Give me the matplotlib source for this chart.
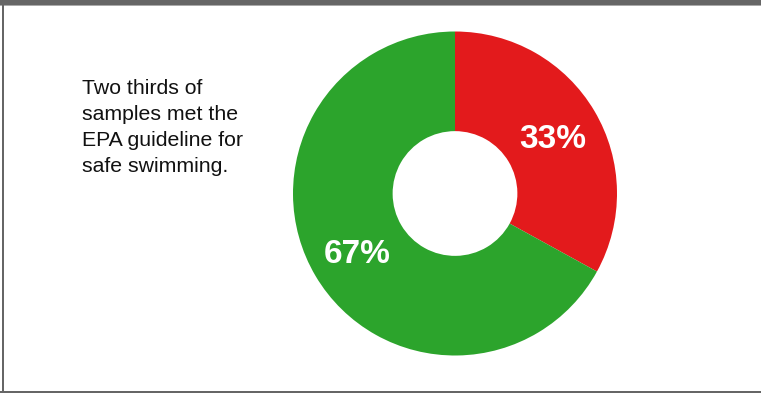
import matplotlib.pyplot as plt
from matplotlib.patches import Rectangle

# share of samples
labels = ['Did not meet', 'Met guideline']
values = [33, 67]
pct_labels = ['33%', '67%']
colors = ['#e31a1c', '#2ca42c']
note = 'Two thirds of\nsamples met the\nEPA guideline for\nsafe swimming.'

W, H = 761, 393
fig = plt.figure(figsize=(W / 100, H / 100), dpi=100)

# frame around the chart
fig.patches.append(Rectangle((0, (H - 4.5) / H), 1, 4.5 / H, transform=fig.transFigure,
                             facecolor='#666666', edgecolor='none'))
fig.patches.append(Rectangle((0, (H - 6) / H), 1, 1.5 / H, transform=fig.transFigure,
                             facecolor='#aaaaaa', edgecolor='none'))
fig.patches.append(Rectangle((2 / W, 0), 2 / W, 1, transform=fig.transFigure,
                             facecolor='#666666', edgecolor='none'))
fig.patches.append(Rectangle((0, 0), 1, 2.5 / H, transform=fig.transFigure,
                             facecolor='#666666', edgecolor='none'))

# donut
r = 162
cx, cy = 455, H - 193.5
ax = fig.add_axes([(cx - r) / W, (cy - r) / H, 2 * r / W, 2 * r / H])
wedges, texts, autotexts = ax.pie(values, colors=colors, startangle=90, counterclock=False,
                                  radius=1, wedgeprops=dict(width=0.615, edgecolor='none'),
                                  autopct='%1.0f%%', pctdistance=0.7)
for t, lab in zip(autotexts, pct_labels):
    t.set_text(lab)
    t.set_color('white')
    t.set_fontsize(24)
    t.set_fontweight('bold')
    t.set_fontfamily('Liberation Sans')
    t.set_va('center_baseline')
ax.set_xlim(-1, 1)
ax.set_ylim(-1, 1)
ax.set_aspect('equal')
ax.axis('off')

fig.text(82 / W, 1 - 79.5 / H, note, ha='left', va='top', fontsize=15.3,
         family='Liberation Sans', linespacing=1.45, color='#111111')

fig.savefig('out.png', dpi=100)
